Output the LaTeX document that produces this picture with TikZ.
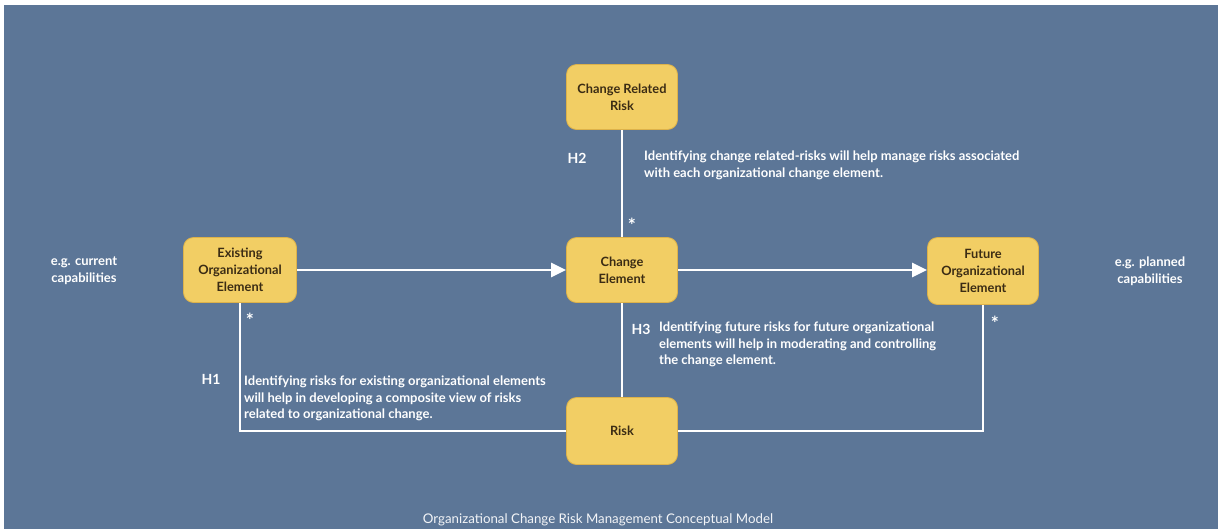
\documentclass[tikz,border=0pt]{standalone}
\usepackage{fontspec}
\setmainfont{Lato}
\usetikzlibrary{arrows.meta}

\definecolor{slate}{HTML}{5C7697}
\definecolor{boxfill}{HTML}{F2CE64}
\definecolor{boxline}{HTML}{DDB24A}
\definecolor{boxtext}{HTML}{3B2C14}

\tikzset{
	block/.style={draw=boxline,fill=boxfill,rounded corners=10pt,line width=0.8pt,
		minimum width=111pt,minimum height=65pt,inner sep=0pt,align=center,
		text=boxtext,font=\fontsize{12.8}{17}\selectfont\bfseries},
	link/.style={draw=white,line width=2.6pt},
	note/.style={text=white,inner sep=0pt,align=left,anchor=north west,
		font=\fontsize{13}{16.5}\selectfont\bfseries},
	hyp/.style={text=white,inner sep=0pt,font=\fontsize{14}{14}\selectfont\bfseries},
	star/.style={text=white,inner sep=0pt,font=\fontsize{19}{19}\selectfont\bfseries},
	side/.style={text=white,inner sep=0pt,align=center,
		font=\fontsize{13}{17}\selectfont\bfseries},
}

\begin{document}
\begin{tikzpicture}[x=1pt,y=-1pt]
	%background
	\fill[white] (0,0) rectangle (1218,529);
	\fill[slate] (4,5) rectangle (1218,529);
	
	%boxes
	\node[block] (crr) at (622,97) {Change Related\\Risk};
	\node[block,minimum width=113pt] (eoe) at (240,270) {Existing\\Organizational\\Element};
	\node[block] (ce) at (622,270) {Change\\Element};
	\node[block,minimum height=67pt] (foe) at (983,271) {Future\\Organizational\\Element};
	\node[block,minimum height=67pt] (risk) at (622,431) {Risk};
	
	%lines
	\draw[link,-{Triangle[length=15pt,width=14pt]}] (eoe) -- (ce);
	\draw[link,-{Triangle[length=15pt,width=14pt]}] (ce) -- (foe.west|-ce);
	\draw[link] (crr) -- (ce);
	\draw[link] (ce) -- (risk);
	\draw[link] (eoe.south) |- (risk.west);
	\draw[link] (foe.south) |- (risk.east);
	
	%stars
	\node[star] (st1) at (250,320) {*};
	\node[star] (st2) at (632,225) {*};
	\node[star] (st3) at (995,323) {*};
	
	%hypotheses
	\node[hyp] (h2) at (577,158) {H2};
	\node[note] (t2) at (644,151) {Identifying change related-risks will help manage risks associated\\with each organizational change element.};
	%
	\node[hyp] (h3) at (641,329) {H3};
	\node[note] (t3) at (659,322) {Identifying future risks for future organizational\\elements will help in moderating and controlling\\the change element.};
	%
	\node[hyp] (h1) at (211,379) {H1};
	\node[note] (t1) at (244,376) {Identifying risks for existing organizational elements\\will help in developing a composite view of risks\\related to organizational change.};
	
	%side labels
	\node[side] (cur) at (84,271) {e.g. current\\capabilities};
	\node[side] (pla) at (1150,271) {e.g. planned\\capabilities};
	
	%caption
	\node[text=white!92!slate,font=\fontsize{13.3}{15}\selectfont] (cap) at (598,520) {Organizational Change Risk Management Conceptual Model};
\end{tikzpicture}
\end{document}
